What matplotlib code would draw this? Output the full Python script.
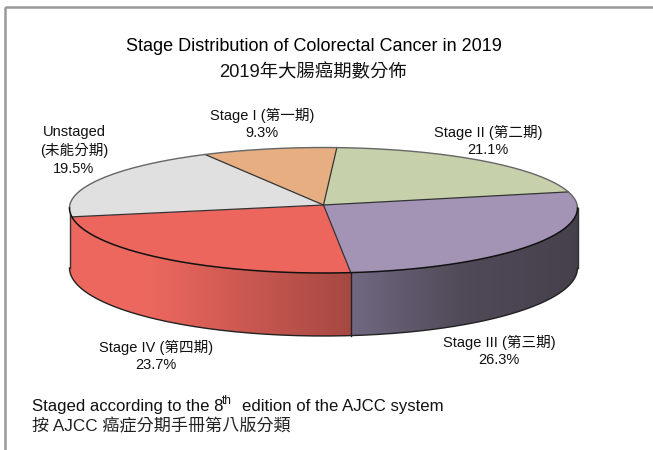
"""Stage distribution 3D pie, drawn by hand with polygons."""
import matplotlib; matplotlib.use('Agg')
import matplotlib.pyplot as plt
from matplotlib.patches import Rectangle
import numpy as np

plt.rcParams['font.family'] = ['Liberation Sans', 'Noto Sans CJK TC', 'DejaVu Sans']

categories = ['Stage I (第一期)', 'Stage II (第二期)', 'Stage III (第三期)',
              'Stage IV (第四期)', 'Unstaged\n(未能分期)']
values = [9.3, 21.1, 26.3, 23.7, 19.5]
top_colors = ['#e7ae82', '#c6d1ac', '#a394b5', '#ec665e', '#e0e0e0']

title_en = 'Stage Distribution of Colorectal Cancer in 2019'
title_zh = '2019年大腸癌期數分佈'

fig = plt.figure(figsize=(6.53, 4.5), dpi=100)
ax = fig.add_axes([0, 0, 1, 1])
ax.set_xlim(0, 653)
ax.set_ylim(450, 0)
ax.axis('off')

# pixel geometry of the tilted disc (front half is larger: perspective)
cx, apex_y = 323.5, 205
rim_cy = 208
rx, ry_back, ry_front = 254, 60.5, 65
base_cy, base_ry = 268, 68
start = -30.5


def rim(t):
    t = np.radians(t)
    c = np.cos(t)
    return cx + rx * np.sin(t), rim_cy - np.where(c > 0, ry_back, ry_front) * c


def base(t):
    t = np.radians(t)
    return cx + rx * np.sin(t), base_cy - base_ry * np.cos(t)


edges = start + np.concatenate([[0], np.cumsum(values)]) * 360 / sum(values)
# perspective shifts the slice boundaries a little along the rim
edges = np.interp(edges, [-90, -30.5, 3, 79, 173.7, 259, 270, 329.5],
                  [-90, -27.8, 3, 74.5, 173.7, 262, 270, 332.2])

# side wall gradients, x in px
red_x, red_c = [72, 150, 350], np.array([[236, 103, 94], [236, 103, 94], [165, 72, 66]]) / 255
pur_x, pur_c = [350, 460, 577], np.array([[112, 105, 130], [80, 74, 88], [70, 63, 76]]) / 255


def side(t0, t1, xs, cs):
    ts = np.linspace(t0, t1, 240)
    x1, y1 = rim(ts)
    x2, y2 = base(ts)
    xm = (x1[:-1] + x1[1:]) / 2
    col = np.array([np.interp(xm, xs, cs[:, i]) for i in range(3)]).T
    ax.pcolormesh(np.vstack([x1, x2]), np.vstack([y1, y2]), col[np.newaxis, :, :],
                  shading='flat', antialiased=False, rasterized=True, zorder=2)


side(90, edges[3], pur_x, pur_c)
side(edges[3], 270, red_x, red_c)

# wall outline
tb = np.linspace(90, 270, 200)
ax.plot(*base(tb), color='#222', lw=1.0, zorder=3)
for t in [90, 270]:
    ax.plot([rim(t)[0], base(t)[0]], [rim(t)[1], base(t)[1]], color='#333', lw=1.0, zorder=3)
ax.plot([rim(edges[3])[0], base(edges[3])[0]], [rim(edges[3])[1], base(edges[3])[1]],
        color='#222', lw=1.0, zorder=3)

# top face
for i, col in enumerate(top_colors):
    ts = np.linspace(edges[i], edges[i + 1], 120)
    x, y = rim(ts)
    ax.fill(np.r_[cx, x], np.r_[apex_y, y], fc=col, ec='none', zorder=4)
    ax.plot([cx, x[0]], [apex_y, y[0]], color='#333', lw=0.9, zorder=5)
ts = np.linspace(-90, 90, 200)
ax.plot(*rim(ts), color='#666', lw=1.0, zorder=5)
ts = np.linspace(90, 270, 200)
ax.plot(*rim(ts), color='#111', lw=1.1, zorder=5)

# frame
ax.add_patch(Rectangle((5, 7), 700, 700, fc='none', ec='#999999', lw=1.8, zorder=1))

# titles
ax.text(313.5, 46.5, title_en, fontsize=13, ha='center', va='center', color='black')
ax.text(313.5, 73, title_zh, fontsize=13.2, ha='center', va='center', color='#111')

# slice labels, one text per line
label_xy = [(262, 115), (488, 132), (499, 342), (156, 347), (74, 132)]
for name, v, (lx, ly) in zip(categories, values, label_xy):
    for j, line in enumerate(name.split('\n') + [f'{v}%']):
        ax.text(lx, ly + j * 18.3, line, fontsize=10.5, ha='center', va='center', color='#111')

# footnote
ax.text(32, 406, 'Staged according to the 8', fontsize=12.1, ha='left', va='center', color='#111')
ax.text(222, 401, 'th', fontsize=8.5, ha='left', va='center', color='#111')
ax.text(444, 406, 'edition of the AJCC system', fontsize=12.1, ha='right', va='center', color='#111')
ax.text(32, 426, '按 AJCC 癌症分期手冊第八版分類', fontsize=12.3, ha='left', va='center', color='#222')

fig.savefig('out.png', dpi=100)
plt.close()
